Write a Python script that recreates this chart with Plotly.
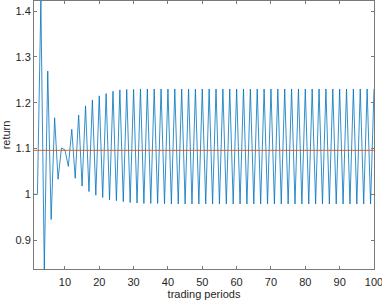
import plotly.graph_objects as go

# trading periods 1..100
periods = list(range(1, 101))

returns = [
    1.000, 1.000, 1.422, 0.837, 1.269, 0.945, 1.167, 1.033, 1.101, 1.097,
    1.061, 1.142, 1.035, 1.173, 1.018, 1.193, 1.006, 1.206, 0.998, 1.215,
    0.993, 1.220, 0.988, 1.225, 0.986, 1.228, 0.984, 1.229, 0.982, 1.229,
    0.981, 1.230, 0.980, 1.230, 0.980, 1.230, 0.980, 1.230, 0.979, 1.230,
    0.979, 1.230, 0.979, 1.230, 0.979, 1.230, 0.979, 1.230, 0.979, 1.230,
    0.979, 1.230, 0.979, 1.230, 0.979, 1.230, 0.979, 1.230, 0.979, 1.230,
    0.979, 1.230, 0.979, 1.230, 0.979, 1.230, 0.979, 1.230, 0.979, 1.230,
    0.979, 1.230, 0.979, 1.230, 0.979, 1.230, 0.979, 1.230, 0.979, 1.230,
    0.979, 1.230, 0.979, 1.230, 0.979, 1.230, 0.979, 1.230, 0.979, 1.230,
    0.979, 1.230, 0.979, 1.230, 0.979, 1.230, 0.979, 1.230, 0.979, 1.230,
]

# constant reference return
mean_return = [1.096] * len(periods)

x_ticks = [10, 20, 30, 40, 50, 60, 70, 80, 90, 100]
y_ticks = [0.9, 1.0, 1.1, 1.2, 1.3, 1.4]
y_tick_labels = ["0.9", "1", "1.1", "1.2", "1.3", "1.4"]

font = dict(family="Liberation Sans, Arial", size=11, color="#262626")

fig = go.Figure()
fig.add_trace(go.Scatter(x=periods, y=returns, mode="lines",
                         line=dict(color="#0072BD", width=0.8)))
fig.add_trace(go.Scatter(x=periods, y=mean_return, mode="lines",
                         line=dict(color="#D95319", width=0.9)))

axis_style = dict(showline=True, linecolor="#7a7a7a", linewidth=1, mirror="ticks",
                  ticks="inside", ticklen=3, tickcolor="#7a7a7a", showgrid=False,
                  zeroline=False, tickfont=font, ticklabeloverflow="allow")

fig.update_xaxes(range=[1, 100], tickvals=x_ticks, ticklabelstandoff=3,
                 title=dict(text="trading periods", standoff=1, font=font), **axis_style)
fig.update_yaxes(range=[0.837, 1.422], tickvals=y_ticks, ticktext=y_tick_labels,
                 title=dict(text="return", standoff=4, font=font), **axis_style)

fig.update_layout(width=382, height=302, showlegend=False,
                  margin=dict(l=34, r=8, t=1, b=33, autoexpand=False),
                  plot_bgcolor="white", paper_bgcolor="white")

fig.write_html("out.html", config={"displayModeBar": False},
               post_script="document.body.style.margin='0';")
